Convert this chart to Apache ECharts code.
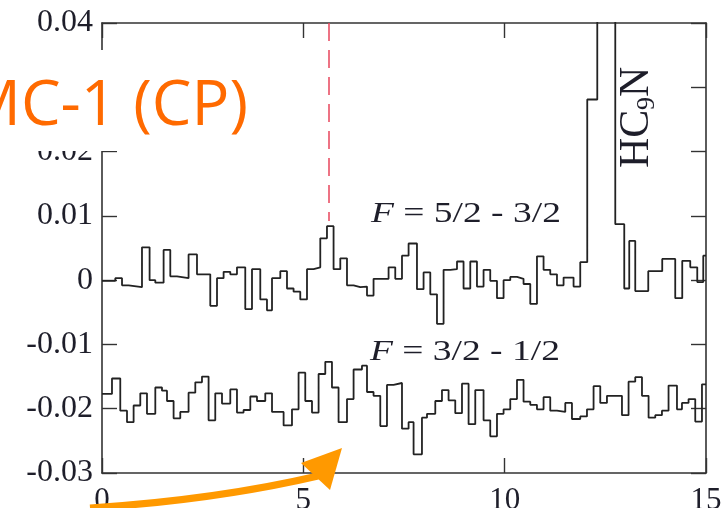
<!DOCTYPE html>
<html>
<head>
<meta charset="utf-8">
<script src="https://cdn.jsdelivr.net/npm/echarts@6/dist/echarts.min.js"></script>
<style>
  html, body { margin: 0; padding: 0; background: #fff; }
  #chart { width: 723px; height: 508px; }
</style>
</head>
<body>
<div id="chart"></div>
<script>
// channel edges (x units) and levels, F = 5/2 - 3/2 spectrum (with HC9N line)
const topEdges = [0, 0.33, 0.497, 0.661, 0.993, 1.182, 1.324, 1.530, 1.696, 1.862,
  2.150, 2.359, 2.689, 2.856, 3.020, 3.186, 3.352, 3.558, 3.725, 3.931,
  4.097, 4.222, 4.428, 4.594, 4.758, 4.924, 5.091, 5.255, 5.421, 5.587,
  5.751, 5.918, 6.084, 6.248, 6.414, 6.581, 6.744, 7.117, 7.283, 7.450,
  7.614, 7.822, 7.986, 8.153, 8.319, 8.483, 8.650, 8.816, 8.979, 9.146,
  9.312, 9.476, 9.642, 9.809, 9.973, 10.139, 10.306, 10.469, 10.636, 10.802,
  10.966, 11.132, 11.299, 11.463, 11.711, 11.877, 12.051, 12.300, 12.747, 12.970,
  13.094, 13.243, 13.566, 13.913, 14.236, 14.410, 14.609, 14.783, 14.932, 15];
const topValues = [-0.0001, 0.0003, -0.0008, -0.0011, 0.0051, 0.0000, -0.0004, 0.0047, 0.0006, 0.0003,
  0.0040, 0.0009, -0.0040, 0.0003, 0.0013, 0.0009, 0.0020, -0.0045, 0.0017, -0.0030,
  -0.0047, 0.0003, 0.0014, -0.0013, -0.0018, -0.0030, 0.0017, 0.0020, 0.0065, 0.0084,
  0.0017, 0.0034, -0.0008, -0.0011, -0.0010, -0.0024, 0.0002, 0.0020, 0.0002, 0.0038,
  0.0057, -0.0014, 0.0012, -0.0022, -0.0068, 0.0016, 0.0017, 0.0029, -0.0013, 0.0029,
  -0.0010, 0.0016, -0.0001, -0.0028, 0.0000, 0.0005, 0.0002, -0.0006, -0.0037, 0.0037,
  0.0016, 0.0009, -0.0008, 0.0004, -0.0010, 0.0028, 0.0281, 0.09, 0.0087, -0.0013,
  0.0061, -0.0017, 0.0014, 0.0033, -0.0028, 0.0030, 0.0020, -0.0003, 0.0038];

// F = 3/2 - 1/2 spectrum (offset)
const botEdges = [0, 0.248, 0.454, 0.621, 0.785, 0.951, 1.117, 1.324, 1.490, 1.614,
  1.778, 1.944, 2.150, 2.317, 2.483, 2.647, 2.813, 2.980, 3.186, 3.352,
  3.516, 3.683, 3.849, 4.055, 4.222, 4.510, 4.718, 4.882, 5.048, 5.215,
  5.379, 5.545, 5.711, 5.875, 6.084, 6.248, 6.456, 6.581, 6.744, 6.911,
  7.077, 7.241, 7.450, 7.614, 7.738, 7.946, 8.071, 8.277, 8.443, 8.607,
  8.773, 8.940, 9.104, 9.270, 9.476, 9.642, 9.809, 9.973, 10.139, 10.306,
  10.469, 10.636, 10.802, 10.966, 11.132, 11.299, 11.505, 11.671, 11.877, 12.044,
  12.208, 12.374, 12.540, 12.913, 13.077, 13.243, 13.410, 13.574, 13.740, 13.906,
  14.070, 14.279, 14.403, 14.567, 14.733, 14.900, 15];
const botValues = [-0.0177, -0.0153, -0.0203, -0.0221, -0.0195, -0.0176, -0.0208, -0.0167, -0.0172, -0.0188,
  -0.0215, -0.0205, -0.0175, -0.0159, -0.0150, -0.0218, -0.0176, -0.0192, -0.0170, -0.0206,
  -0.0202, -0.0181, -0.0188, -0.0176, -0.0205, -0.0226, -0.0201, -0.0144, -0.0188, -0.0206,
  -0.0146, -0.0127, -0.0167, -0.0221, -0.0185, -0.0139, -0.0133, -0.0174, -0.0180, -0.0227,
  -0.0163, -0.0160, -0.0231, -0.0221, -0.0271, -0.0214, -0.0208, -0.0188, -0.0171, -0.0187,
  -0.0207, -0.0161, -0.0224, -0.0171, -0.0218, -0.0243, -0.0208, -0.0201, -0.0185, -0.0155,
  -0.0189, -0.0194, -0.0201, -0.0182, -0.0203, -0.0205, -0.0191, -0.0216, -0.0212, -0.0201,
  -0.0165, -0.0191, -0.0180, -0.0210, -0.0158, -0.0151, -0.0180, -0.0214, -0.0210, -0.0203,
  -0.0164, -0.0201, -0.0191, -0.0185, -0.0220, -0.0162];

const xTicks = [0, 5, 10, 15];
const yMin = -0.03, yMax = 0.04, yStep = 0.01;
const markerX = 5.63;   // dashed red line position
const markerTop = 0.0092;

const axisColor = "#333";
const textColor = "#1e1e2a";
const serif = "'Liberation Serif', 'DejaVu Serif', serif";

// step data: one point per channel edge
function stepData(edges, values) {
  return edges.map((x, i) => [x, values[Math.min(i, values.length - 1)]]);
}

const chart = echarts.init(document.getElementById("chart"));

const frameLine = { onZero: false, lineStyle: { color: axisColor, width: 1.6 } };
const frameTick = { show: true, inside: true, length: 15, lineStyle: { color: axisColor, width: 1.4 } };

const option = {
  backgroundColor: "#fff",
  animation: false,
  grid: {
    left: 102,
    right: 17,
    top: 23,
    bottom: 35,
    containLabel: false,
    outerBoundsMode: "none"
  },
  xAxis: [
    {
      type: "value",
      min: xTicks[0],
      max: xTicks[xTicks.length - 1],
      interval: 5,
      position: "bottom",
      axisLine: frameLine,
      axisTick: frameTick,
      axisLabel: { color: textColor, fontFamily: serif, fontSize: 31, margin: 12 },
      splitLine: { show: false }
    },
    {
      type: "value",
      min: xTicks[0],
      max: xTicks[xTicks.length - 1],
      interval: 5,
      position: "top",
      axisLine: frameLine,
      axisTick: frameTick,
      axisLabel: { show: false },
      splitLine: { show: false }
    }
  ],
  yAxis: [
    {
      type: "value",
      min: yMin,
      max: yMax,
      interval: yStep,
      position: "left",
      axisLine: Object.assign({ show: true }, frameLine),
      axisTick: frameTick,
      axisLabel: {
        color: textColor,
        fontFamily: serif,
        fontSize: 32,
        margin: 9,
        formatter: v => (Math.abs(v) < 1e-9 ? "0" : v.toFixed(2))
      },
      splitLine: { show: false }
    },
    {
      type: "value",
      min: yMin,
      max: yMax,
      interval: yStep,
      position: "right",
      axisLine: Object.assign({ show: true }, frameLine),
      axisTick: frameTick,
      axisLabel: { show: false },
      splitLine: { show: false }
    }
  ],
  series: [
    {
      name: "F = 5/2 - 3/2",
      type: "line",
      step: "end",
      symbol: "none",
      clip: true,
      lineStyle: { color: "#222", width: 1.8 },
      data: stepData(topEdges, topValues),
      markLine: {
        silent: true,
        symbol: "none",
        label: { show: false },
        lineStyle: { color: "#e8465c", width: 1.5, type: [18, 9] },
        data: [[{ coord: [markerX, yMax] }, { coord: [markerX, markerTop] }]]
      }
    },
    {
      name: "F = 3/2 - 1/2",
      type: "line",
      step: "end",
      symbol: "none",
      clip: true,
      lineStyle: { color: "#222", width: 1.8 },
      data: stepData(botEdges, botValues)
    }
  ],
  graphic: [
    // transition labels
    {
      type: "text", z: 50, x: 371, y: 229, scaleX: 1.25,
      style: {
        text: "{i|F} = 5/2 - 3/2",
        font: "30px " + serif,
        fill: textColor,
        textVerticalAlign: "bottom",
        rich: { i: { fontStyle: "italic", fontSize: 30, fontFamily: serif, fill: textColor } }
      }
    },
    {
      type: "text", z: 50, x: 370, y: 367, scaleX: 1.25,
      style: {
        text: "{i|F} = 3/2 - 1/2",
        font: "30px " + serif,
        fill: textColor,
        textVerticalAlign: "bottom",
        rich: { i: { fontStyle: "italic", fontSize: 30, fontFamily: serif, fill: textColor } }
      }
    },
    // HC9N vertical label
    {
      type: "text", z: 50, x: 658, y: 168, rotation: Math.PI / 2,
      style: { text: "HC", font: "42px " + serif, fill: textColor, textAlign: "left", textVerticalAlign: "bottom" }
    },
    {
      type: "text", z: 50, x: 660, y: 110, rotation: Math.PI / 2,
      style: { text: "9", font: "26px " + serif, fill: textColor, textAlign: "left", textVerticalAlign: "bottom" }
    },
    {
      type: "text", z: 50, x: 658, y: 97, rotation: Math.PI / 2,
      style: { text: "N", font: "42px " + serif, fill: textColor, textAlign: "left", textVerticalAlign: "bottom" }
    },
    // overlaid slide title
    {
      type: "rect", z: 90,
      shape: { x: 0, y: 50, width: 252, height: 101 },
      style: { fill: "#fff" }
    },
    {
      type: "text", z: 91, x: 248, y: 107,
      style: {
        text: "MC-1 (CP)",
        font: "63px 'Open Sans', 'Noto Sans', sans-serif",
        fill: "#ff6a00",
        textAlign: "right",
        textVerticalAlign: "middle"
      }
    },
    // orange arrow
    {
      type: "bezierCurve", z: 92,
      shape: { x1: 90, y1: 508, cpx1: 215, cpy1: 500, x2: 318, y2: 476 },
      style: { stroke: "#ff9900", lineWidth: 7, fill: null }
    },
    {
      type: "polygon", z: 92,
      shape: { points: [[301, 463], [342, 448], [330, 490]] },
      style: { fill: "#ff9900" }
    }
  ]
};

chart.setOption(option);
window.addEventListener("resize", () => chart.resize());
</script>
</body>
</html>
